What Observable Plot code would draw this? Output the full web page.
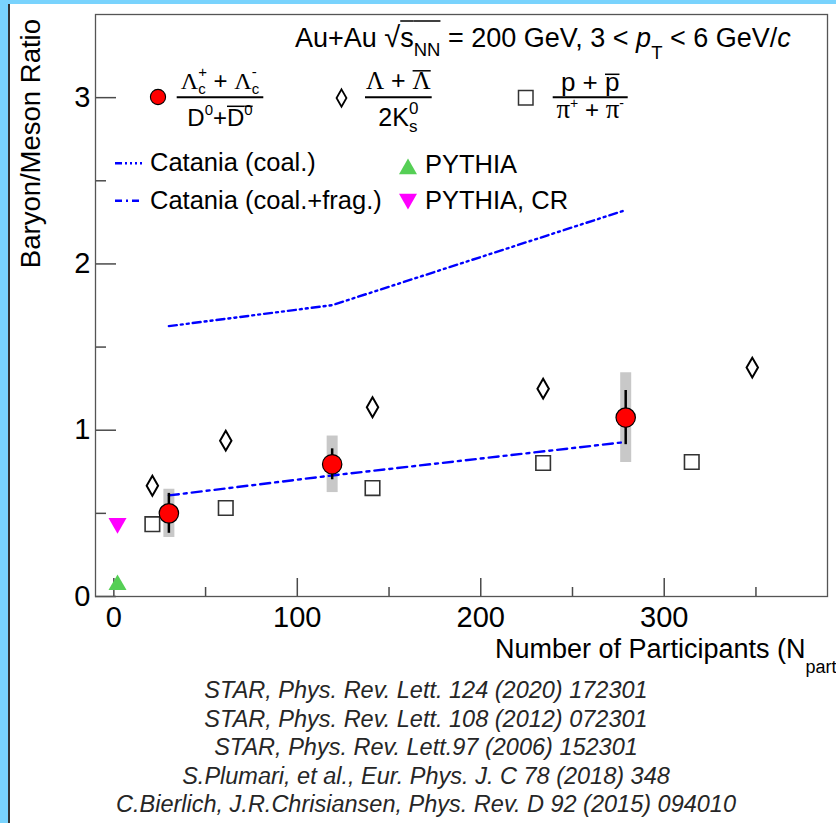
<!DOCTYPE html>
<html><head><meta charset="utf-8">
<script src="https://cdn.jsdelivr.net/npm/d3@7"></script>
<script src="https://cdn.jsdelivr.net/npm/@observablehq/plot@0.6"></script>
<style>
html,body{margin:0;padding:0;background:#fff;overflow:hidden;width:836px;height:823px}
#wrap{position:relative;width:836px;height:823px}
#caption{position:absolute;top:676px;left:16px;width:820px;text-align:center;font:italic 23.5px "Liberation Sans",Arial,sans-serif;line-height:28.5px;color:#262626}
.bar{position:absolute;background:#79d3fd}
</style></head><body><div id="wrap"></div>
<script>
// ---------------- data ----------------
const lcNpart = [30, 119, 279];
const lcRatio = [0.50, 0.795, 1.076];
const lcStat  = [0.12, 0.093, 0.163];
const lcSys   = [0.145, 0.17, 0.27];

const lamNpart = [21, 61, 141, 234, 348];
const lamRatio = [0.666, 0.937, 1.138, 1.250, 1.377];

const pNpart = [21, 61, 141, 234, 315];
const pRatio = [0.435, 0.532, 0.652, 0.803, 0.809];

const catCoalNpart = [30, 119, 279];
const catCoal      = [1.626, 1.752, 2.324];
const catFragNpart = [30, 119, 279];
const catFrag      = [0.608, 0.728, 0.929];

const pythiaNpart   = [2];
const pythia        = [0.07];
const pythiaCRNpart = [2];
const pythiaCR      = [0.44];

const xMajor = [0, 100, 200, 300];
const xMinor = [50, 150, 250, 350];
const yMajor = [0, 1, 2, 3];
const yMinor = [0.5, 1.5, 2.5];

const captionLines = [
  "STAR, Phys. Rev. Lett. 124 (2020) 172301",
  "STAR, Phys. Rev. Lett. 108 (2012) 072301",
  "STAR, Phys. Rev. Lett.97 (2006) 152301",
  "S.Plumari, et al., Eur. Phys. J. C 78 (2018) 348",
  "C.Bierlich, J.R.Chrisiansen, Phys. Rev. D 92 (2015) 094010"
];

// ---------------- tables ----------------
const lc = lcNpart.map((x, i) => ({x, y: lcRatio[i], stat: lcStat[i], sys: lcSys[i]}));
const lam = lamNpart.map((x, i) => ({x, y: lamRatio[i]}));
const pp = pNpart.map((x, i) => ({x, y: pRatio[i]}));
const coal = catCoalNpart.map((x, i) => ({x, y: catCoal[i]}));
const frag = catFragNpart.map((x, i) => ({x, y: catFrag[i]}));
const py = pythiaNpart.map((x, i) => ({x, y: pythia[i]}));
const pycr = pythiaCRNpart.map((x, i) => ({x, y: pythiaCR[i]}));

const W = 836, H = 676, mL = 95, mR = 9, mT = 14, mB = 80;
const fW = W - mL - mR, fH = H - mT - mB;
const SANS = '"Liberation Sans", Arial, sans-serif';
const SERIF = '"Liberation Serif", "Times New Roman", serif';
const BLUE = "#0000ff";
const DASH_COAL = "8 4 2 4 2 4";
const DASH_FRAG = "10 5 3 5";
const TICK = "#4a4a4a";

const plot = Plot.plot({
  width: W, height: H,
  marginLeft: mL, marginRight: mR, marginTop: mT, marginBottom: mB,
  style: {fontFamily: SANS, background: "white", overflow: "visible"},
  x: {domain: [-10, 389]},
  y: {domain: [0, 3.5]},
  marks: [
    Plot.ruleX(xMajor, {x: d => d, stroke: TICK, strokeWidth: 1.5, insetTop: fH - 18}),
    Plot.ruleX(xMinor, {x: d => d, stroke: TICK, strokeWidth: 1.5, insetTop: fH - 9}),
    Plot.ruleY(yMajor, {y: d => d, stroke: TICK, strokeWidth: 1.5, insetRight: fW - 21}),
    Plot.ruleY(yMinor, {y: d => d, stroke: TICK, strokeWidth: 1.5, insetRight: fW - 11}),
    Plot.axisX({ticks: xMajor, tickSize: 0, tickPadding: 10, fontSize: 29, label: null, tickFormat: d => String(d)}),
    Plot.axisY({ticks: yMajor, tickSize: 0, tickPadding: 5, fontSize: 29, label: null, tickFormat: d => String(d)}),
    Plot.ruleX(lc, {x: "x", y1: d => d.y - d.sys, y2: d => d.y + d.sys, stroke: "#c8c8c8", strokeWidth: 11}),
    Plot.line(coal, {x: "x", y: "y", stroke: BLUE, strokeWidth: 2.4, strokeDasharray: DASH_COAL}),
    Plot.line(frag, {x: "x", y: "y", stroke: BLUE, strokeWidth: 2.4, strokeDasharray: DASH_FRAG}),
    Plot.ruleX(lc, {x: "x", y1: d => d.y - d.stat, y2: d => d.y + d.stat, stroke: "black", strokeWidth: 2.5}),
    Plot.dot(lam, {x: "x", y: "y", symbol: "diamond", r: 6, stroke: "black", strokeWidth: 2, fill: "none"}),
    Plot.dot(pp, {x: "x", y: "y", symbol: "square", r: 8.2, stroke: "#333", strokeWidth: 1.6, fill: "none"}),
    Plot.dot(lc, {x: "x", y: "y", r: 9.7, fill: "#ff0000", stroke: "black", strokeWidth: 1.2}),
    Plot.dot(py, {x: "x", y: "y", symbol: "triangle", r: 6.7, fill: "#55cf55", stroke: "none"}),
    Plot.dot(pycr, {x: "x", y: "y", symbol: "triangle", r: 6.7, rotate: 180, fill: "#ff00ff", stroke: "none"}),
    Plot.frame({stroke: "#555", strokeWidth: 1.3})
  ]
});

const wrap = document.getElementById("wrap");
wrap.appendChild(plot);
plot.style.position = "absolute";
plot.style.left = "0px";
plot.style.top = "0px";

// ---------------- text overlays (title, legend, axis titles) ----------------
const cctx = document.createElement("canvas").getContext("2d");
function measure(t, size, fam, it) {
  cctx.font = `${it ? "italic " : ""}${size}px ${fam}`;
  return cctx.measureText(t).width;
}
const g = d3.select(plot).append("g").attr("fill", "black").attr("text-anchor", "start");

function mathRun(x, y, parts, anchor = "start") {
  const items = [];
  let cx = 0;
  for (const p of parts) {
    const fam = p.fam || SANS;
    if (p.sup !== undefined || p.sub !== undefined) {
      const ws = p.sup !== undefined ? measure(p.sup, p.size, fam, p.it) : 0;
      const wb = p.sub !== undefined ? measure(p.sub, p.size, fam, p.it) : 0;
      if (p.sup !== undefined) items.push({t: p.sup, x: cx, dy: p.supDy, size: p.size, fam, it: p.it, ol: p.ol, w: ws});
      if (p.sub !== undefined) items.push({t: p.sub, x: cx, dy: p.subDy, size: p.size, fam, it: p.it, w: wb});
      cx += Math.max(ws, wb) + (p.gap || 0);
    } else {
      const w = measure(p.t, p.size, fam, p.it);
      items.push({...p, fam, x: cx, w});
      cx += w + (p.gap || 0);
    }
  }
  const x0 = anchor === "middle" ? x - cx / 2 : anchor === "end" ? x - cx : x;
  for (const it of items) {
    g.append("text")
      .attr("x", x0 + it.x).attr("y", y + (it.dy || 0))
      .attr("text-anchor", "start")
      .attr("font-family", it.fam).attr("font-size", it.size)
      .attr("font-style", it.it ? "italic" : null)
      .style("white-space", "pre")
      .text(it.t);
    if (it.ol !== undefined) {
      g.append("line")
        .attr("x1", x0 + it.x).attr("x2", x0 + it.x + it.w)
        .attr("y1", y + it.ol).attr("y2", y + it.ol)
        .attr("stroke", "black").attr("stroke-width", 1.5);
    }
  }
  return cx;
}

// header
mathRun(295, 47, [
  {t: "Au+Au ", size: 27},
  {t: "\u221A", size: 29},
  {t: "s", size: 27, ol: -26},
  {t: "NN", size: 18.5, dy: 9, ol: -26},
  {t: " = 200 GeV, 3 < ", size: 27},
  {t: "p", size: 27, it: true},
  {t: "T", size: 18.5, dy: 12},
  {t: " < 6 GeV/", size: 27},
  {t: "c", size: 27, it: true}
]);

// fraction helper
function frac(x1, x2, ly, num, den, numB = -8.5, denB = 29) {
  const cx = (x1 + x2) / 2;
  g.append("line").attr("x1", x1).attr("x2", x2).attr("y1", ly).attr("y2", ly)
    .attr("stroke", "black").attr("stroke-width", 2);
  mathRun(cx, ly + numB, num, "middle");
  mathRun(cx, ly + denB, den, "middle");
}

// legend row 1 markers
const sym = (type, size) => d3.symbol(type, size)();
g.append("circle").attr("cx", 158).attr("cy", 97).attr("r", 7.6).attr("fill", "#ff0000").attr("stroke", "black").attr("stroke-width", 1.1);
g.append("path").attr("d", sym(d3.symbolDiamond, 85)).attr("transform", "translate(341.5,98)")
  .attr("fill", "none").attr("stroke", "black").attr("stroke-width", 1.8);
g.append("rect").attr("x", 518.5).attr("y", 90.5).attr("width", 14.5).attr("height", 14.5)
  .attr("fill", "none").attr("stroke", "#333").attr("stroke-width", 1.5);

frac(176.7, 263.3, 97.3,
  [{t: "\u039B", size: 24, fam: SERIF}, {sup: "+", sub: "c", size: 15, supDy: -12, subDy: 5},
   {t: " + ", size: 24}, {t: "\u039B", size: 24, fam: SERIF}, {sup: "-", sub: "c", size: 15, supDy: -12, subDy: 5}],
  [{t: "D", size: 24}, {sup: "0", size: 15, supDy: -11}, {t: "+", size: 24},
   {t: "D", size: 24, ol: -20}, {sup: "0", size: 15, supDy: -11, ol: -20}]
);
frac(365, 431.7, 97.3,
  [{t: "\u039B", size: 25, fam: SERIF}, {t: " + ", size: 25}, {t: "\u039B", size: 25, fam: SERIF, ol: -18}],
  [{t: "2K", size: 25}, {sup: "0", sub: "s", size: 17, supDy: -12, subDy: 6}]
);
frac(552.7, 627.7, 97.3,
  [{t: "p", size: 26}, {t: " + ", size: 26}, {t: "p", size: 26, ol: -16.5}],
  [{t: "\u03C0", size: 27, fam: SERIF}, {sup: "+", size: 14, supDy: -10}, {t: " + ", size: 24},
   {t: "\u03C0", size: 27, fam: SERIF}, {sup: "-", size: 14, supDy: -10}],
  -6.5, 21
);

// legend rows 2,3
g.append("line").attr("x1", 115).attr("x2", 142).attr("y1", 163.3).attr("y2", 163.3)
  .attr("stroke", BLUE).attr("stroke-width", 2.4).attr("stroke-dasharray", "7 3 2 3 2 3 2 3");
g.append("line").attr("x1", 115).attr("x2", 142).attr("y1", 200.7).attr("y2", 200.7)
  .attr("stroke", BLUE).attr("stroke-width", 2.4).attr("stroke-dasharray", "7 4 2 4");
mathRun(150, 170.5, [{t: "Catania (coal.)", size: 25.5}]);
mathRun(150, 208.5, [{t: "Catania (coal.+frag.)", size: 25.5}]);
g.append("path").attr("d", sym(d3.symbolTriangle, 140)).attr("transform", "translate(408,169)").attr("fill", "#55cf55");
g.append("path").attr("d", sym(d3.symbolTriangle, 140)).attr("transform", "translate(408,199) rotate(180)").attr("fill", "#ff00ff");
mathRun(425, 173, [{t: "PYTHIA", size: 25.5}]);
mathRun(425, 208.5, [{t: "PYTHIA, CR", size: 25.5}]);

// axis titles
mathRun(495, 658, [
  {t: "Number of Participants (N", size: 27},
  {t: "part", size: 18, dy: 15},
  {t: ")", size: 27}
]);
g.append("text")
  .attr("transform", "translate(40,19) rotate(-90)")
  .attr("text-anchor", "end")
  .attr("font-family", SANS).attr("font-size", 27.5)
  .text("Baryon/Meson Ratio");

// caption (below the svg)
const cap = document.createElement("div");
cap.id = "caption";
cap.innerHTML = captionLines.map(s => `<div>${s}</div>`).join("");
wrap.appendChild(cap);

// page border decoration
for (const [l, t, w, h, c] of [[0, 0, 836, 4, "#79d3fd"], [0, 0, 8, 823, "#79d3fd"], [8, 4, 1.5, 819, "#333"]]) {
  const d = document.createElement("div");
  d.className = "bar";
  Object.assign(d.style, {left: l + "px", top: t + "px", width: w + "px", height: h + "px", background: c});
  wrap.appendChild(d);
}
</script>
</body></html>
